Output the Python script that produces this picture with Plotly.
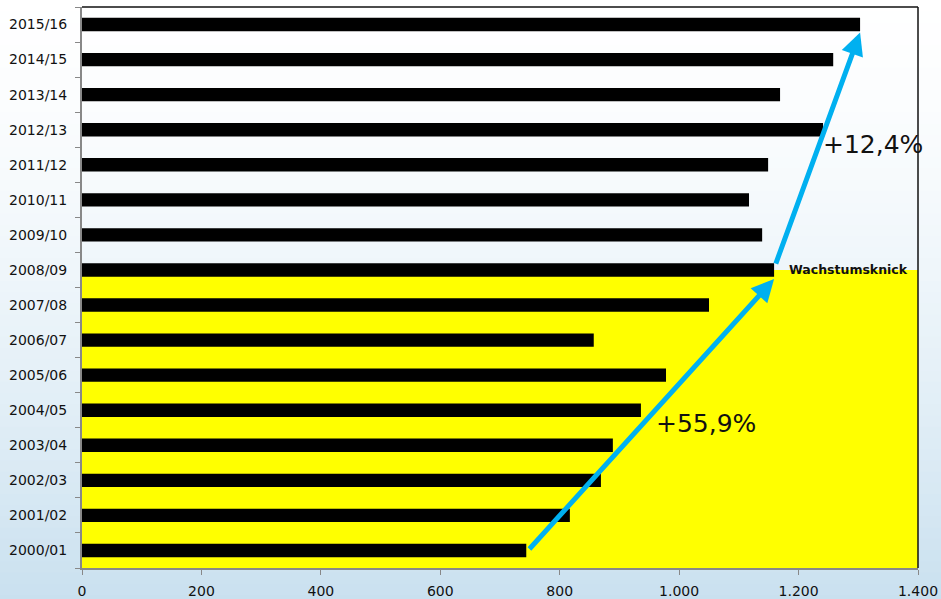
import plotly.graph_objects as go

categories = ["2000/01", "2001/02", "2002/03", "2003/04", "2004/05", "2005/06", "2006/07",
              "2007/08", "2008/09", "2009/10", "2010/11", "2011/12", "2012/13", "2013/14",
              "2014/15", "2015/16"]
values = [744, 817, 869, 889, 936, 978, 857, 1050, 1159, 1139, 1117, 1149, 1241, 1169, 1258, 1303]
x_ticks = [0, 200, 400, 600, 800, 1000, 1200, 1400]
x_tick_labels = ["0", "200", "400", "600", "800", "1.000", "1.200", "1.400"]

fig = go.Figure()
fig.add_trace(go.Bar(
    y=categories, x=values, orientation="h",
    marker=dict(color="black", line=dict(width=0)),
    width=0.38, showlegend=False, hoverinfo="skip",
))

shapes = []
# background gradient (white top -> light blue bottom)
n = 60
top = (255, 255, 255)
bot = (194, 220, 237)
for i in range(n):
    t = (i + 0.5) / n
    f = t ** 1.6
    c = tuple(int(round(top[k] + (bot[k] - top[k]) * f)) for k in range(3))
    shapes.append(dict(type="rect", xref="paper", yref="paper",
                       x0=-0.2, x1=1.2, y0=1.05 - (i + 1) * 1.2 / n, y1=1.05 - i * 1.2 / n + 0.002,
                       fillcolor="rgb(%d,%d,%d)" % c, line=dict(width=0), layer="below"))
# yellow region
shapes.append(dict(type="rect", xref="x", yref="y", x0=0, x1=1400, y0=-0.5, y1=8.0,
                   fillcolor="#ffff00", line=dict(width=0), layer="below"))
# top & right borders
shapes.append(dict(type="line", xref="paper", yref="paper", x0=0, x1=1, y0=1, y1=1,
                   line=dict(color="#111111", width=1.5)))
shapes.append(dict(type="line", xref="paper", yref="paper", x0=1, x1=1, y0=0, y1=1,
                   line=dict(color="#111111", width=1.5)))

arrow_color = "#00b0f0"
annotations = [
    dict(x=values[8], y=7.74, ax=values[0] + 3, ay=0, xref="x", yref="y", axref="x", ayref="y",
         text="", showarrow=True, arrowhead=2, arrowsize=0.9, arrowwidth=5, arrowcolor=arrow_color),
    dict(x=values[15], y=14.77, ax=values[8] + 2, ay=8.14, xref="x", yref="y", axref="x", ayref="y",
         text="", showarrow=True, arrowhead=2, arrowsize=0.9, arrowwidth=5, arrowcolor=arrow_color),
    dict(x=1045, y=3.63, xref="x", yref="y", text="+55,9%", showarrow=False,
         font=dict(size=25, color="#111111", family="DejaVu Sans")),
    dict(x=1325, y=11.57, xref="x", yref="y", text="+12,4%", showarrow=False,
         font=dict(size=25, color="#111111", family="DejaVu Sans")),
    dict(x=1283, y=8.0, xref="x", yref="y", text="<b>Wachstumsknick</b>", showarrow=False,
         font=dict(size=12.5, color="#111111", family="DejaVu Sans")),
]

fig.update_layout(
    width=941, height=599,
    margin=dict(l=82, r=23, t=7, b=31, autoexpand=False),
    paper_bgcolor="white", plot_bgcolor="rgba(0,0,0,0)",
    shapes=shapes, annotations=annotations,
    font=dict(family="DejaVu Sans", size=14, color="#111111"),
    xaxis=dict(range=[0, 1400], tickvals=x_ticks, ticktext=x_tick_labels, automargin=False,
               showgrid=False, zeroline=False, showline=True, linecolor="#888888", linewidth=2,
               ticks="outside", ticklen=5, tickcolor="#888888", tickfont=dict(size=14),
               ticklabelstandoff=4),
    yaxis=dict(categoryorder="array", categoryarray=categories, range=[-0.5, 15.5], automargin=False,
               showgrid=False, zeroline=False, showline=True, linecolor="#888888", linewidth=2,
               ticks="outside", ticklen=5, tickcolor="#888888", tickson="boundaries",
               tickfont=dict(size=14), ticklabelstandoff=10),
)

fig.write_html("out.html")
